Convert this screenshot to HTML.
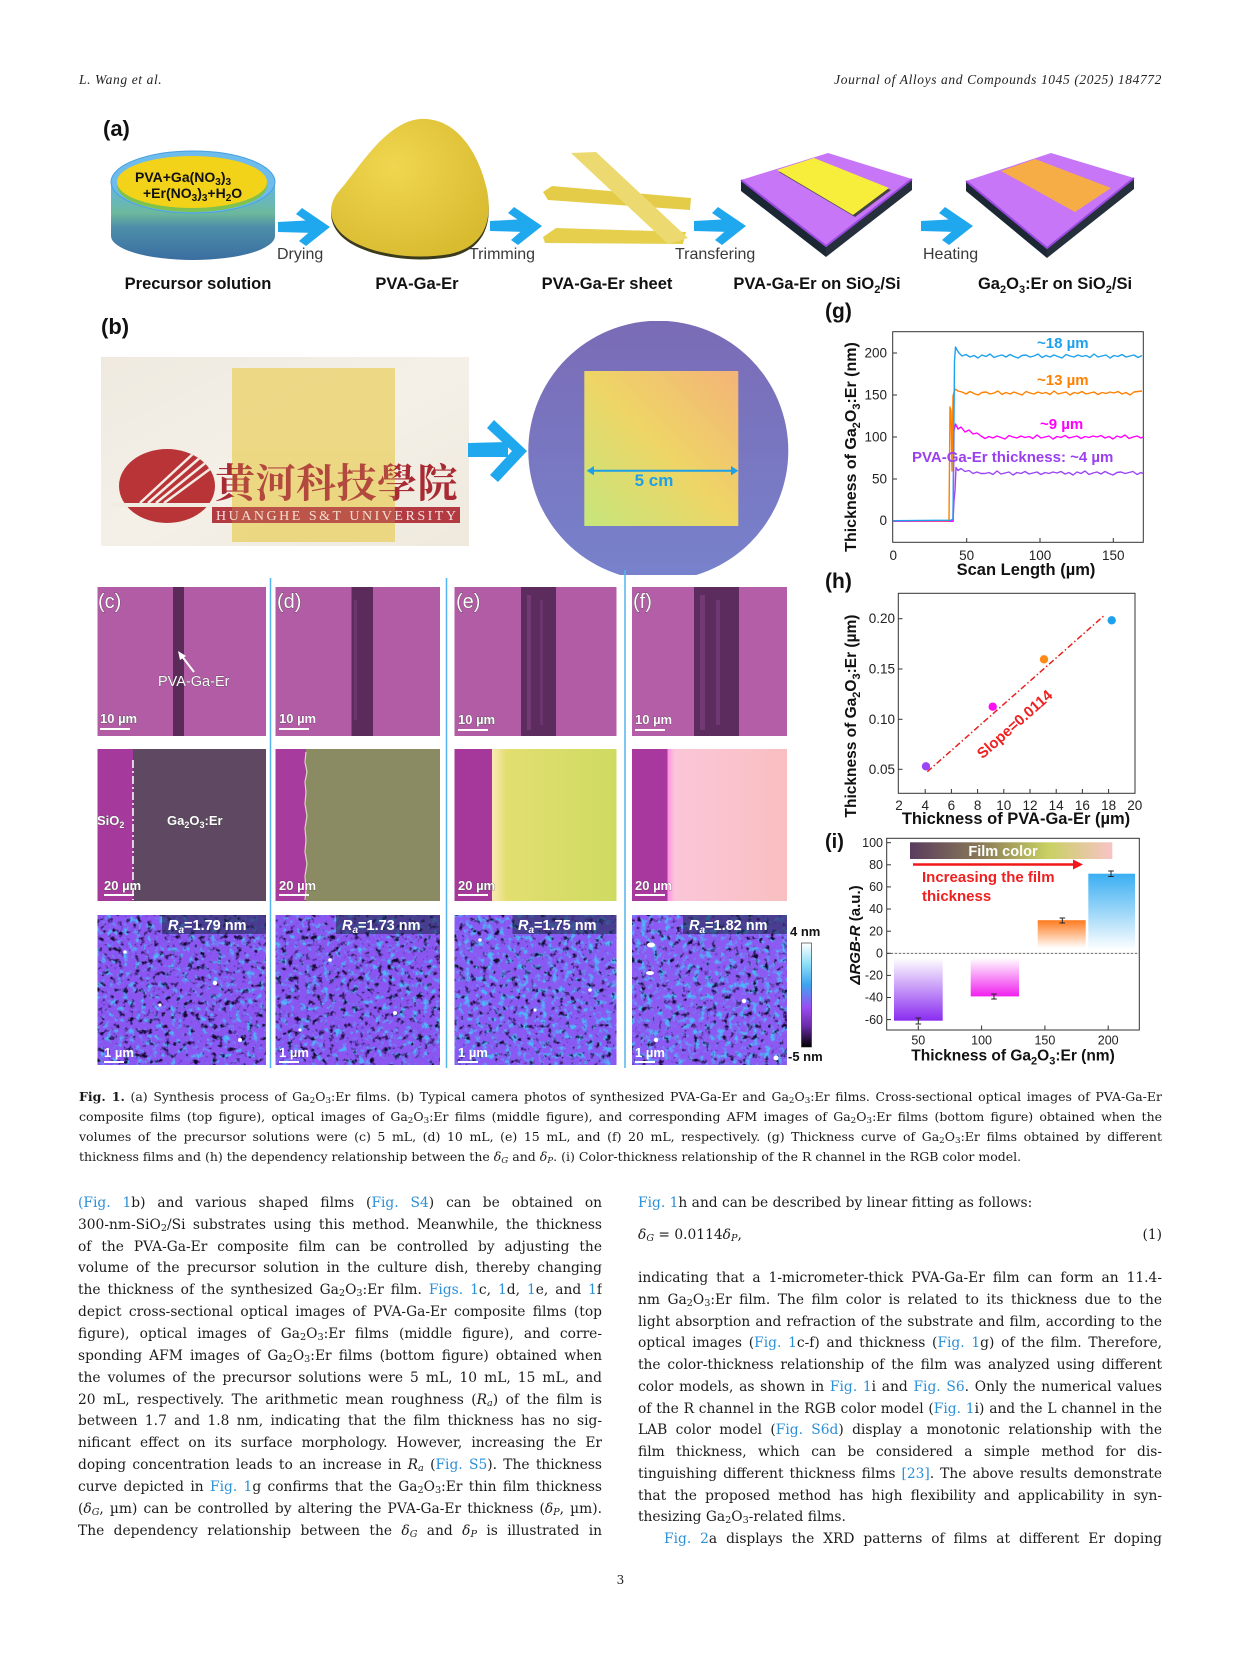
<!DOCTYPE html>
<html><head><meta charset="utf-8">
<style>
html,body{margin:0;padding:0;background:#fff;}
body{width:1241px;height:1654px;position:relative;overflow:hidden;}
#fig{position:absolute;left:0;top:0;}
.hd{position:absolute;top:72px;font-family:"Liberation Serif",serif;font-style:italic;font-size:13.5px;letter-spacing:0.6px;color:#222;white-space:nowrap;}
.ln{position:absolute;width:524px;height:20px;line-height:20px;overflow:hidden;text-align:justify;text-align-last:justify;font-family:"DejaVu Serif","Liberation Serif",serif;font-size:13.8px;color:#1b1b1b;}
.cp{position:absolute;left:79px;width:1083px;height:19px;line-height:19px;overflow:hidden;text-align:justify;text-align-last:justify;font-family:"DejaVu Serif","Liberation Serif",serif;font-size:12.5px;letter-spacing:0;color:#1b1b1b;}
.ln.nl,.cp.nl{text-align:left;text-align-last:left;}
.l{color:#2b8fd6;}
sub{font-size:70%;vertical-align:-2px;line-height:0;}
i{font-style:italic;}
</style></head><body>

<div class="hd" style="left:79px;">L. Wang et al.</div>
<div class="hd" style="right:79px;">Journal of Alloys and Compounds 1045 (2025) 184772</div>

<svg id="fig" width="1241" height="1100" viewBox="0 0 1241 1100" font-family="Liberation Sans, Arial, sans-serif">
<defs>
  <linearGradient id="dishBody" gradientUnits="userSpaceOnUse" x1="0" y1="182" x2="0" y2="260">
    <stop offset="0" stop-color="#62b6e8"/><stop offset="0.4" stop-color="#6cb89c"/><stop offset="0.58" stop-color="#4d8eaa"/><stop offset="1" stop-color="#3a6ea0"/>
  </linearGradient>
  <radialGradient id="blobG" cx="0.4" cy="0.35" r="0.7">
    <stop offset="0" stop-color="#f0d650"/><stop offset="1" stop-color="#d9bb30"/>
  </radialGradient>
  <linearGradient id="sq" x1="1" y1="0" x2="0" y2="1">
    <stop offset="0" stop-color="#f3b478"/><stop offset="0.5" stop-color="#eed566"/><stop offset="1" stop-color="#c6e67c"/>
  </linearGradient>
  <linearGradient id="waf" x1="0" y1="0" x2="0" y2="1">
    <stop offset="0" stop-color="#7a6bb6"/><stop offset="1" stop-color="#7882cc"/>
  </linearGradient>
  <linearGradient id="photoBg" x1="0" y1="0" x2="1" y2="1">
    <stop offset="0" stop-color="#efeae0"/><stop offset="0.5" stop-color="#f4f0e8"/><stop offset="1" stop-color="#efe9dd"/>
  </linearGradient>
  <linearGradient id="eG" x1="0" y1="0" x2="1" y2="0">
    <stop offset="0" stop-color="#fbe9b4"/><stop offset="0.12" stop-color="#e2de70"/><stop offset="1" stop-color="#cedb62"/>
  </linearGradient>
  <linearGradient id="fG" x1="0" y1="0" x2="1" y2="0">
    <stop offset="0" stop-color="#ff8ee4"/><stop offset="0.06" stop-color="#fac6d8"/><stop offset="1" stop-color="#f9bfc0"/>
  </linearGradient>
  <linearGradient id="cbar" x1="0" y1="0" x2="0" y2="1">
    <stop offset="0" stop-color="#ffffff"/><stop offset="0.2" stop-color="#8fe0f8"/><stop offset="0.4" stop-color="#3ea4ee"/><stop offset="0.62" stop-color="#9a4cf2"/><stop offset="0.8" stop-color="#6a2aa8"/><stop offset="1" stop-color="#000000"/>
  </linearGradient>
  <linearGradient id="filmc" x1="0" y1="0" x2="1" y2="0">
    <stop offset="0" stop-color="#5a3c5e"/><stop offset="0.35" stop-color="#8a7a58"/><stop offset="0.68" stop-color="#c8d062"/><stop offset="1" stop-color="#f8c4c6"/>
  </linearGradient>
  <linearGradient id="b1" x1="0" y1="0" x2="0" y2="1"><stop offset="0" stop-color="#ffffff"/><stop offset="1" stop-color="#8a2cf0"/></linearGradient>
  <linearGradient id="b2" x1="0" y1="0" x2="0" y2="1"><stop offset="0" stop-color="#ffffff"/><stop offset="1" stop-color="#f020ee"/></linearGradient>
  <linearGradient id="b3" x1="0" y1="0" x2="0" y2="1"><stop offset="0" stop-color="#ff7a1e"/><stop offset="1" stop-color="#ffffff"/></linearGradient>
  <linearGradient id="b4" x1="0" y1="0" x2="0" y2="1"><stop offset="0" stop-color="#3aaef2"/><stop offset="1" stop-color="#ffffff"/></linearGradient>
  <clipPath id="wclip"><rect x="520" y="321" width="280" height="254"/></clipPath>
  <clipPath id="logoClip"><ellipse cx="167" cy="486" rx="48" ry="37"/></clipPath>
  <filter id="afm1" x="0" y="0" width="1" height="1" color-interpolation-filters="sRGB">
    <feTurbulence type="fractalNoise" baseFrequency="0.17" numOctaves="3" seed="3" result="t"/>
    <feColorMatrix in="t" type="matrix" values="0 0 0 0 0.3  0 0 0 0 0.72  0 0 0 0 0.98  4 0 0 0 -2.15" result="cy"/>
    <feColorMatrix in="t" type="matrix" values="0 0 0 0 0.08  0 0 0 0 0.02  0 0 0 0 0.2  0 -4.5 0 0 1.95" result="dk"/>
    <feFlood flood-color="#8a55f0" result="bg"/>
    <feMerge><feMergeNode in="bg"/><feMergeNode in="cy"/><feMergeNode in="dk"/></feMerge>
  </filter>
  <filter id="afm2" x="0" y="0" width="1" height="1" color-interpolation-filters="sRGB">
    <feTurbulence type="fractalNoise" baseFrequency="0.17" numOctaves="3" seed="11" result="t"/>
    <feColorMatrix in="t" type="matrix" values="0 0 0 0 0.3  0 0 0 0 0.72  0 0 0 0 0.98  4 0 0 0 -2.15" result="cy"/>
    <feColorMatrix in="t" type="matrix" values="0 0 0 0 0.08  0 0 0 0 0.02  0 0 0 0 0.2  0 -4.5 0 0 1.95" result="dk"/>
    <feFlood flood-color="#8a55f0" result="bg"/>
    <feMerge><feMergeNode in="bg"/><feMergeNode in="cy"/><feMergeNode in="dk"/></feMerge>
  </filter>
  <filter id="afm3" x="0" y="0" width="1" height="1" color-interpolation-filters="sRGB">
    <feTurbulence type="fractalNoise" baseFrequency="0.17" numOctaves="3" seed="23" result="t"/>
    <feColorMatrix in="t" type="matrix" values="0 0 0 0 0.3  0 0 0 0 0.72  0 0 0 0 0.98  4 0 0 0 -2.05" result="cy"/>
    <feColorMatrix in="t" type="matrix" values="0 0 0 0 0.08  0 0 0 0 0.02  0 0 0 0 0.2  0 -4.5 0 0 1.85" result="dk"/>
    <feFlood flood-color="#8a58f2" result="bg"/>
    <feMerge><feMergeNode in="bg"/><feMergeNode in="cy"/><feMergeNode in="dk"/></feMerge>
  </filter>
  <filter id="afm4" x="0" y="0" width="1" height="1" color-interpolation-filters="sRGB">
    <feTurbulence type="fractalNoise" baseFrequency="0.17" numOctaves="3" seed="41" result="t"/>
    <feColorMatrix in="t" type="matrix" values="0 0 0 0 0.3  0 0 0 0 0.72  0 0 0 0 0.98  4 0 0 0 -2.05" result="cy"/>
    <feColorMatrix in="t" type="matrix" values="0 0 0 0 0.08  0 0 0 0 0.02  0 0 0 0 0.2  0 -4.5 0 0 1.9" result="dk"/>
    <feFlood flood-color="#8c5af2" result="bg"/>
    <feMerge><feMergeNode in="bg"/><feMergeNode in="cy"/><feMergeNode in="dk"/></feMerge>
  </filter>
  <g id="arr">
    <polygon points="0,14 37,12 37,25 0,24" fill="#1fa8ee"/>
    <polygon points="24,0 52,19 28,38 21,33 37,19 18,6" fill="#1fa8ee"/>
  </g>
</defs>

<!-- ===== (a) ===== -->
<text x="103" y="136" font-size="22" font-weight="bold" fill="#111">(a)</text>

<!-- dish -->
<path d="M111,182 L111,236 A82,24 0 0 0 275,236 L275,182 Z" fill="url(#dishBody)"/>
<ellipse cx="193" cy="182" rx="82" ry="31" fill="#6dbcec" stroke="#4aa0e0" stroke-width="1"/>
<ellipse cx="192" cy="186" rx="75" ry="26" fill="#7fc24e"/>
<ellipse cx="192" cy="182" rx="75" ry="26" fill="#f3d21a"/>
<text x="135" y="182" font-size="14" font-weight="bold" fill="#111">PVA+Ga(NO<tspan dy="3" font-size="10">3</tspan><tspan dy="-3">)</tspan><tspan dy="3" font-size="10">3</tspan></text>
<text x="143" y="198" font-size="14" font-weight="bold" fill="#111">+Er(NO<tspan dy="3" font-size="10">3</tspan><tspan dy="-3">)</tspan><tspan dy="3" font-size="10">3</tspan><tspan dy="-3">+H</tspan><tspan dy="3" font-size="10">2</tspan><tspan dy="-3">O</tspan></text>

<use href="#arr" x="278" y="208"/>
<text x="277" y="259" font-size="16" fill="#3a3a3a">Drying</text>

<!-- blob -->
<path transform="translate(0,3)" d="M420,119 C455,117 478,150 487,190 C494,225 480,248 450,254 C415,260 375,255 350,240 C328,226 326,205 340,190 C358,170 385,122 420,119 Z" fill="#3c3a1c"/>
<path d="M420,119 C455,117 478,150 487,190 C494,225 480,248 450,254 C415,260 375,255 350,240 C328,226 326,205 340,190 C358,170 385,122 420,119 Z" fill="url(#blobG)"/>

<use href="#arr" x="490" y="207"/>
<text x="469" y="259" font-size="16" fill="#3a3a3a">Trimming</text>

<!-- strips -->
<polygon points="543,192 552,186 691,198 690,210 548,200" fill="#e4cc48"/>
<polygon points="543,237 556,228 686,232 683,244 545,243" fill="#e6cf4c"/>
<polygon points="571,153 596,152 688,238 668,244" fill="#ecda70"/>

<use href="#arr" x="694" y="207"/>
<text x="675" y="259" font-size="16" fill="#3a3a3a">Transfering</text>

<!-- wafer 1 -->
<polygon points="741,180 826,246 826,257 741,191" fill="#1c2734"/>
<polygon points="826,246 912,179 912,190 826,257" fill="#26303c"/>
<polygon points="741,180 828,153 912,179 826,246" fill="#c676f6"/>
<polyline points="741,180 826,246 912,179" fill="none" stroke="#9a4ae0" stroke-width="2"/>
<polygon points="779,172 816,160 891,190 855,217" fill="#444"/>
<polygon points="777,170 814,158 889,188 853,215" fill="#f6ee3a"/>

<use href="#arr" x="921" y="207"/>
<text x="923" y="259" font-size="16" fill="#3a3a3a">Heating</text>

<!-- wafer 2 -->
<polygon points="966,181 1047,248 1047,258 966,191" fill="#1c2734"/>
<polygon points="1047,248 1134,178 1134,189 1047,258" fill="#26303c"/>
<polygon points="966,181 1051,153 1134,178 1047,248" fill="#c676f6"/>
<polyline points="966,181 1047,248 1134,178" fill="none" stroke="#9a4ae0" stroke-width="2"/>
<polygon points="1001,171 1035,159 1111,188 1075,212" fill="#f7ad46"/>

<g font-size="16.5" font-weight="bold" fill="#111" text-anchor="middle">
  <text x="198" y="289">Precursor solution</text>
  <text x="417" y="289">PVA-Ga-Er</text>
  <text x="607" y="289">PVA-Ga-Er sheet</text>
  <text x="817" y="289">PVA-Ga-Er on SiO<tspan dy="4" font-size="11">2</tspan><tspan dy="-4">/Si</tspan></text>
  <text x="1055" y="289">Ga<tspan dy="4" font-size="11">2</tspan><tspan dy="-4">O</tspan><tspan dy="4" font-size="11">3</tspan><tspan dy="-4">:Er on SiO</tspan><tspan dy="4" font-size="11">2</tspan><tspan dy="-4">/Si</tspan></text>
</g>

<!-- ===== (b) ===== -->
<text x="101" y="334" font-size="22" font-weight="bold" fill="#111">(b)</text>
<rect x="101" y="357" width="368" height="189" fill="url(#photoBg)"/>
<rect x="232" y="368" width="163" height="174" fill="#ebd374" opacity="0.85"/>
<!-- logo -->
<ellipse cx="167" cy="486" rx="48" ry="37" fill="#b83436"/>
<g clip-path="url(#logoClip)" stroke="#f3ece6" stroke-width="2.5">
  <line x1="140" y1="503" x2="195" y2="452"/>
  <line x1="148" y1="503" x2="203" y2="455"/>
  <line x1="156" y1="503" x2="209" y2="460"/>
  <line x1="164" y1="503" x2="214" y2="466"/>
</g>
<rect x="112" y="503" width="106" height="4" fill="#f1ece2"/>
<text x="215" y="497" font-family="Noto Serif CJK SC, Noto Sans CJK SC, serif" font-size="40" font-weight="bold" fill="#a82a32" letter-spacing="0.5">黄河科技學院</text>
<rect x="212" y="507" width="248" height="16" fill="#b23a40"/>
<text x="216" y="520" font-family="Liberation Serif, serif" font-size="14" fill="#f7e2e2" textLength="240" lengthAdjust="spacing">HUANGHE  S&amp;T UNIVERSITY</text>
<rect x="232" y="450" width="163" height="92" fill="#ebd374" opacity="0.18"/>
<!-- arrow -->
<polygon points="468,443 508,442 508,457 468,457" fill="#1fa8ee"/>
<polygon points="494,420 527,451 498,482 490,475 512,451 487,428" fill="#1fa8ee"/>
<!-- wafer -->
<g clip-path="url(#wclip)">
  <circle cx="658.3" cy="450.7" r="130" fill="url(#waf)"/>
</g>
<rect x="584.3" y="371" width="154" height="155" fill="url(#sq)"/>
<line x1="590" y1="470.7" x2="735" y2="470.7" stroke="#1ea0e6" stroke-width="2"/>
<polygon points="586.7,470.7 594,466 594,475.4" fill="#1ea0e6"/>
<polygon points="738.3,470.7 731,466 731,475.4" fill="#1ea0e6"/>
<text x="654" y="486" font-size="17" font-weight="bold" fill="#1ea0e6" text-anchor="middle">5 cm</text>

<!-- ===== (c)-(f) ===== -->
<!-- row 1 -->
<rect x="97.5" y="587" width="168.5" height="149" fill="#b35ca6"/>
<rect x="173" y="587" width="11" height="149" fill="#5a2a58"/>
<rect x="275.5" y="587" width="164.5" height="149" fill="#b35ca6"/>
<rect x="351.5" y="587" width="21.5" height="149" fill="#5b2b5c"/>
<rect x="354" y="600" width="3" height="120" fill="#7a3c7c" opacity="0.6"/>
<rect x="454.5" y="587" width="162" height="149" fill="#b35ca6"/>
<rect x="521" y="587" width="35" height="149" fill="#5c2c5e"/>
<rect x="527" y="595" width="4" height="135" fill="#8a468c" opacity="0.5"/>
<rect x="540" y="600" width="3" height="125" fill="#7a3c80" opacity="0.5"/>
<rect x="632" y="587" width="155" height="149" fill="#b55ea8"/>
<rect x="694" y="587" width="45" height="149" fill="#5c2c5e"/>
<rect x="700" y="595" width="5" height="135" fill="#8a468c" opacity="0.5"/>
<rect x="716" y="600" width="4" height="125" fill="#8a468c" opacity="0.45"/>
<g fill="#fff" stroke="#3a3a3a" stroke-width="0.6" paint-order="stroke" font-size="20">
  <text x="98" y="608">(c)</text>
  <text x="277" y="608">(d)</text>
  <text x="456" y="608">(e)</text>
  <text x="633" y="608">(f)</text>
</g>
<g fill="#fff" font-size="13" font-weight="bold" stroke="#3a3a3a" stroke-width="0.5" paint-order="stroke">
  <text x="100" y="723">10 µm</text>
  <text x="279" y="723">10 µm</text>
  <text x="458" y="724">10 µm</text>
  <text x="635" y="724">10 µm</text>
  <text x="158" y="686" font-weight="normal" font-size="14.5">PVA-Ga-Er</text>
</g>
<g stroke="#fff" stroke-width="2">
  <line x1="100" y1="729" x2="130" y2="729"/>
  <line x1="279" y1="729" x2="309" y2="729"/>
  <line x1="458" y1="730" x2="488" y2="730"/>
  <line x1="635" y1="730" x2="665" y2="730"/>
  <line x1="194" y1="672" x2="181" y2="655"/>
</g>
<polygon points="178,651 186,656 180,660" fill="#fff"/>

<!-- row 2 -->
<rect x="97.5" y="749" width="35.5" height="152" fill="#a5399c"/>
<rect x="133" y="749" width="133" height="152" fill="#5f4862"/>
<line x1="133" y1="760" x2="133" y2="900" stroke="#fff" stroke-width="1.5" stroke-dasharray="8,3,2,3"/>
<rect x="275.5" y="749" width="31" height="152" fill="#a83b9e"/>
<rect x="306" y="749" width="134" height="152" fill="#8a8a63"/>
<polyline points="306,752 305,762 307,772 305,782 306,792 305,804 307,816 305,828 306,840 305,852 307,864 305,876 306,890 305,900" fill="none" stroke="#d8d8c0" stroke-width="1.2"/>
<rect x="454.5" y="749" width="38" height="152" fill="#a6389b"/>
<rect x="492" y="749" width="124.5" height="152" fill="url(#eG)"/>
<rect x="632" y="749" width="36" height="152" fill="#a8389e"/>
<rect x="667.5" y="749" width="119.5" height="152" fill="url(#fG)"/>
<g fill="#fff" font-size="13" font-weight="bold" stroke="#3a3a3a" stroke-width="0.5" paint-order="stroke">
  <text x="97" y="825">SiO<tspan dy="3" font-size="9">2</tspan></text>
  <text x="167" y="825">Ga<tspan dy="3" font-size="9">2</tspan><tspan dy="-3">O</tspan><tspan dy="3" font-size="9">3</tspan><tspan dy="-3">:Er</tspan></text>
  <text x="104" y="890">20 µm</text>
  <text x="279" y="890">20 µm</text>
  <text x="458" y="890">20 µm</text>
  <text x="635" y="890">20 µm</text>
</g>
<g stroke="#fff" stroke-width="2">
  <line x1="104" y1="895" x2="134" y2="895"/>
  <line x1="279" y1="895" x2="309" y2="895"/>
  <line x1="458" y1="895" x2="488" y2="895"/>
  <line x1="635" y1="895" x2="665" y2="895"/>
</g>

<!-- row 3 AFM -->
<rect x="97.5" y="915" width="168.5" height="150" filter="url(#afm1)"/>
<rect x="275.5" y="915" width="164.5" height="150" filter="url(#afm2)"/>
<rect x="454.5" y="915" width="162" height="150" filter="url(#afm3)"/>
<rect x="632" y="915" width="155" height="150" filter="url(#afm4)"/>
<g fill="#fff">
  <circle cx="215" cy="983" r="2.2"/><circle cx="125" cy="952" r="1.8"/><circle cx="240" cy="1040" r="2"/><circle cx="160" cy="1005" r="1.6"/>
  <circle cx="330" cy="960" r="1.8"/><circle cx="395" cy="1013" r="2"/><circle cx="300" cy="1030" r="1.6"/>
  <circle cx="480" cy="940" r="1.8"/><circle cx="535" cy="1010" r="1.6"/><circle cx="590" cy="990" r="1.8"/>
  <ellipse cx="651" cy="945" rx="4" ry="2.5"/><ellipse cx="650" cy="973" rx="4" ry="2"/><circle cx="656" cy="1040" r="2.2"/><circle cx="744" cy="1001" r="2.2"/><circle cx="776" cy="1058" r="2.5"/>
</g>
<g>
  <rect x="162" y="915" width="104" height="19" fill="#1e2a50" opacity="0.6"/>
  <rect x="336" y="915" width="104" height="19" fill="#1e2a50" opacity="0.6"/>
  <rect x="512.5" y="915" width="104" height="19" fill="#1e2a50" opacity="0.6"/>
  <rect x="683" y="915" width="104" height="19" fill="#1e2a50" opacity="0.6"/>
</g>
<g fill="#fff" font-size="14.5" font-weight="bold">
  <text x="168" y="930"><tspan font-style="italic">R</tspan><tspan dy="3" font-size="10" font-style="italic">a</tspan><tspan dy="-3">=1.79 nm</tspan></text>
  <text x="342" y="930"><tspan font-style="italic">R</tspan><tspan dy="3" font-size="10" font-style="italic">a</tspan><tspan dy="-3">=1.73 nm</tspan></text>
  <text x="518" y="930"><tspan font-style="italic">R</tspan><tspan dy="3" font-size="10" font-style="italic">a</tspan><tspan dy="-3">=1.75 nm</tspan></text>
  <text x="689" y="930"><tspan font-style="italic">R</tspan><tspan dy="3" font-size="10" font-style="italic">a</tspan><tspan dy="-3">=1.82 nm</tspan></text>
</g>
<g fill="#fff" font-size="13" font-weight="bold">
  <text x="104" y="1057">1 µm</text>
  <text x="279" y="1057">1 µm</text>
  <text x="458" y="1057">1 µm</text>
  <text x="635" y="1057">1 µm</text>
</g>
<g stroke="#fff" stroke-width="2">
  <line x1="104" y1="1062" x2="124" y2="1062"/>
  <line x1="279" y1="1062" x2="299" y2="1062"/>
  <line x1="458" y1="1062" x2="478" y2="1062"/>
  <line x1="635" y1="1062" x2="655" y2="1062"/>
</g>
<rect x="801.5" y="943" width="10" height="104" fill="url(#cbar)" stroke="#222" stroke-width="0.6"/>
<text x="790" y="936" font-size="13" font-weight="bold" fill="#111">4 nm</text>
<text x="788" y="1061" font-size="13" font-weight="bold" fill="#111">-5 nm</text>

<!-- separators -->
<g stroke="#55b4ee" stroke-width="1.5">
  <line x1="270.5" y1="578" x2="270.5" y2="1068"/>
  <line x1="446.5" y1="578" x2="446.5" y2="1068"/>
  <line x1="625" y1="570" x2="625" y2="1068"/>
</g>

<!-- ===== (g) ===== -->
<text x="825" y="318" font-size="21" font-weight="bold" fill="#111">(g)</text>
<rect x="892.7" y="331.7" width="250.6" height="210.6" fill="none" stroke="#333" stroke-width="1"/>
<g stroke="#333" stroke-width="1">
  <line x1="892.7" y1="520.7" x2="897" y2="520.7"/><line x1="892.7" y1="479" x2="897" y2="479"/><line x1="892.7" y1="437" x2="897" y2="437"/><line x1="892.7" y1="395" x2="897" y2="395"/><line x1="892.7" y1="353" x2="897" y2="353"/>
  <line x1="966.7" y1="542.3" x2="966.7" y2="538"/><line x1="1040" y1="542.3" x2="1040" y2="538"/><line x1="1113.3" y1="542.3" x2="1113.3" y2="538"/>
</g>
<g font-size="13.5" fill="#222" text-anchor="end">
  <text x="887" y="525">0</text><text x="887" y="483.5">50</text><text x="887" y="441.5">100</text><text x="887" y="399.5">150</text><text x="887" y="357.5">200</text>
</g>
<g font-size="13.5" fill="#222" text-anchor="middle">
  <text x="893.3" y="560">0</text><text x="966.7" y="560">50</text><text x="1040" y="560">100</text><text x="1113.3" y="560">150</text>
</g>
<text x="1026" y="575" font-size="16.5" font-weight="bold" fill="#111" text-anchor="middle">Scan Length (µm)</text>
<text transform="translate(856,447) rotate(-90)" font-size="16" font-weight="bold" fill="#111" text-anchor="middle">Thickness of Ga<tspan dy="4" font-size="11">2</tspan><tspan dy="-4">O</tspan><tspan dy="4" font-size="11">3</tspan><tspan dy="-4">:Er (nm)</tspan></text>
<g fill="none" stroke-width="1.4" stroke-linejoin="round">
  <polyline transform="translate(0,0.5)" stroke="#9b45f5" points="893.3,520.7 953,520.7 954,500 955,490 956,467 958,470 961,468 965,471 969,470 973,473 977,471.5 981,473 985,473 989,472 993,474 997,470.5 1001,473.5 1005,472.5 1009,471.5 1013,474.5 1017,472 1021,473 1025,471 1029,473.5 1033,472.5 1037,471.5 1041,474 1045,472 1049,473 1053,471.5 1057,472.5 1061,471 1065,473.5 1069,472 1073,474.5 1077,471.5 1081,473 1085,470.5 1089,474 1093,472.5 1097,471.5 1101,473.5 1105,471 1109,473 1113,474.5 1117,472 1121,471.5 1125,473 1129,472 1133,471 1137,474 1141,472 1143,473"/>
  <polyline transform="translate(0,1)" stroke="#ff00ff" points="893.3,520.2 953,520.2 954,430 955.5,423 958,428 961,426 965,431 969,429 973,433 977,432 981,435 985,437.5 989,435.5 993,437 997,435 1001,436.5 1005,438 1009,434.5 1013,436 1017,437 1021,435 1025,436.5 1029,435.5 1033,437.5 1037,434 1041,437 1045,436 1049,435 1053,438 1057,435.5 1061,436.5 1065,434.5 1069,437 1073,436 1077,435 1081,437.5 1085,435.5 1089,436.5 1093,435 1097,436 1101,434.5 1105,437 1109,435.5 1113,438 1117,435 1121,436.5 1125,434 1129,437.5 1133,436 1137,435 1141,437 1143,436"/>
  <polyline transform="translate(0,1)" stroke="#ff8000" points="893.3,519.7 949,519.7 950,406 951,410 952,470 953,395 955,388 958,390 962,391 966,393 970,390.5 974,392.5 978,394 982,391.5 986,391 990,393 994,392 998,390 1002,393.5 1006,391.5 1010,393 1014,391 1018,392.5 1022,394 1026,390.5 1030,392 1034,393 1038,391 1042,392.5 1046,391.5 1050,393.5 1054,390 1058,393 1062,392 1066,391 1070,394 1074,391.5 1078,392.5 1082,390.5 1086,393 1090,392 1094,391 1098,393.5 1102,391.5 1106,392.5 1110,391 1114,392 1118,390.5 1122,393 1126,391.5 1130,394 1134,391 1138,390.5 1142,390"/>
  <polyline transform="translate(0,1)" stroke="#1da1ec" points="893.3,519.7 951,519.2 953,518 954.5,360 955.5,346 957,349 959,352 962,355 966,353.5 970,356 974,354.5 978,357 982,354 986,355.5 990,353 994,356.5 998,355 1002,354 1006,356 1010,353.5 1014,355.5 1018,357 1022,354.5 1026,354 1030,356 1034,355 1038,353 1042,356.5 1046,354.5 1050,356 1054,354 1058,355.5 1062,357 1066,353.5 1070,355 1074,356 1078,354 1082,355.5 1086,354.5 1090,356.5 1094,353 1098,356 1102,355 1106,354 1110,357 1114,354.5 1118,355.5 1122,353.5 1126,356 1130,355 1134,354 1138,356.5 1142,354.5"/>
</g>
<g font-size="15" font-weight="bold">
  <text x="1037" y="348" fill="#1da1ec">~18 µm</text>
  <text x="1037" y="385" fill="#ff8000">~13 µm</text>
  <text x="1040" y="429" fill="#ff00ff">~9 µm</text>
  <text x="912" y="462" fill="#9b3ff0">PVA-Ga-Er thickness: ~4 µm</text>
</g>

<!-- ===== (h) ===== -->
<text x="825" y="588" font-size="21" font-weight="bold" fill="#111">(h)</text>
<rect x="898.3" y="593.3" width="236.7" height="200" fill="none" stroke="#333" stroke-width="1"/>
<g stroke="#333" stroke-width="1">
  <line x1="898.3" y1="618.7" x2="902.5" y2="618.7"/><line x1="898.3" y1="669" x2="902.5" y2="669"/><line x1="898.3" y1="719.3" x2="902.5" y2="719.3"/><line x1="898.3" y1="769.3" x2="902.5" y2="769.3"/>
  <line x1="925.2" y1="793.3" x2="925.2" y2="789"/><line x1="951.4" y1="793.3" x2="951.4" y2="789"/><line x1="977.6" y1="793.3" x2="977.6" y2="789"/><line x1="1003.8" y1="793.3" x2="1003.8" y2="789"/><line x1="1030" y1="793.3" x2="1030" y2="789"/><line x1="1056.2" y1="793.3" x2="1056.2" y2="789"/><line x1="1082.4" y1="793.3" x2="1082.4" y2="789"/><line x1="1108.6" y1="793.3" x2="1108.6" y2="789"/>
</g>
<g font-size="13.5" fill="#222" text-anchor="end">
  <text x="895" y="623.2">0.20</text><text x="895" y="673.5">0.15</text><text x="895" y="723.8">0.10</text><text x="895" y="773.8">0.05</text>
</g>
<g font-size="13.5" fill="#222" text-anchor="middle">
  <text x="899" y="810">2</text><text x="925.2" y="810">4</text><text x="951.4" y="810">6</text><text x="977.6" y="810">8</text><text x="1003.8" y="810">10</text><text x="1030" y="810">12</text><text x="1056.2" y="810">14</text><text x="1082.4" y="810">16</text><text x="1108.6" y="810">18</text><text x="1134.8" y="810">20</text>
</g>
<text x="1016" y="824" font-size="16.5" font-weight="bold" fill="#111" text-anchor="middle">Thickness of PVA-Ga-Er (µm)</text>
<text transform="translate(856,716) rotate(-90)" font-size="15.5" font-weight="bold" fill="#111" text-anchor="middle">Thickness of Ga<tspan dy="4" font-size="11">2</tspan><tspan dy="-4">O</tspan><tspan dy="4" font-size="11">3</tspan><tspan dy="-4">:Er (µm)</tspan></text>
<line x1="927.3" y1="771.7" x2="1104" y2="615.7" stroke="#e82020" stroke-width="1.5" stroke-dasharray="6,2.5,1.5,2.5"/>
<circle cx="926" cy="766.3" r="4.2" fill="#9b45f5"/>
<circle cx="992.7" cy="706.7" r="4.2" fill="#ff10f0"/>
<circle cx="1044" cy="659.3" r="4.2" fill="#ff8a14"/>
<circle cx="1111.7" cy="620.3" r="4.2" fill="#1da1ec"/>
<text transform="translate(1018,728) rotate(-41.5)" font-size="15" font-weight="bold" fill="#f02020" text-anchor="middle">Slope=0.0114</text>

<!-- ===== (i) ===== -->
<text x="825" y="848" font-size="20" font-weight="bold" fill="#111">(i)</text>
<rect x="894" y="958" width="48.7" height="62.7" fill="url(#b1)"/>
<rect x="970.7" y="958" width="48.3" height="38.4" fill="url(#b2)"/>
<rect x="1037.7" y="920.2" width="48" height="28" fill="url(#b3)"/>
<rect x="1088.3" y="873.7" width="46.7" height="76.3" fill="url(#b4)"/>
<line x1="886.7" y1="953.3" x2="1139.3" y2="953.3" stroke="#555" stroke-width="0.8" stroke-dasharray="2.5,1.5"/>
<g stroke="#222" stroke-width="1">
  <line x1="918.3" y1="1018" x2="918.3" y2="1024"/><line x1="915.5" y1="1018" x2="921.1" y2="1018"/><line x1="915.5" y1="1024" x2="921.1" y2="1024"/>
  <line x1="994" y1="994" x2="994" y2="999"/><line x1="991.2" y1="994" x2="996.8" y2="994"/><line x1="991.2" y1="999" x2="996.8" y2="999"/>
  <line x1="1062.3" y1="918" x2="1062.3" y2="923"/><line x1="1059.5" y1="918" x2="1065.1" y2="918"/><line x1="1059.5" y1="923" x2="1065.1" y2="923"/>
  <line x1="1111" y1="871" x2="1111" y2="876.5"/><line x1="1108.2" y1="871" x2="1113.8" y2="871"/><line x1="1108.2" y1="876.5" x2="1113.8" y2="876.5"/>
</g>
<rect x="886.7" y="838.3" width="252.6" height="191.7" fill="none" stroke="#333" stroke-width="1"/>
<g stroke="#333" stroke-width="1">
  <line x1="886.7" y1="842.7" x2="891" y2="842.7"/><line x1="886.7" y1="864.8" x2="891" y2="864.8"/><line x1="886.7" y1="886.9" x2="891" y2="886.9"/><line x1="886.7" y1="909" x2="891" y2="909"/><line x1="886.7" y1="931.2" x2="891" y2="931.2"/><line x1="886.7" y1="953.3" x2="891" y2="953.3"/><line x1="886.7" y1="975.4" x2="891" y2="975.4"/><line x1="886.7" y1="997.5" x2="891" y2="997.5"/><line x1="886.7" y1="1019.6" x2="891" y2="1019.6"/>
  <line x1="918.3" y1="1030" x2="918.3" y2="1025.5"/><line x1="981.6" y1="1030" x2="981.6" y2="1025.5"/><line x1="1044.9" y1="1030" x2="1044.9" y2="1025.5"/><line x1="1108.2" y1="1030" x2="1108.2" y2="1025.5"/>
</g>
<g font-size="12.5" fill="#222" text-anchor="end">
  <text x="883" y="847">100</text><text x="883" y="869">80</text><text x="883" y="891">60</text><text x="883" y="913">40</text><text x="883" y="935.5">20</text><text x="883" y="957.5">0</text><text x="883" y="979.5">-20</text><text x="883" y="1001.5">-40</text><text x="883" y="1024">-60</text>
</g>
<g font-size="12.5" fill="#222" text-anchor="middle">
  <text x="918.3" y="1044.5">50</text><text x="981.6" y="1044.5">100</text><text x="1044.9" y="1044.5">150</text><text x="1108.2" y="1044.5">200</text>
</g>
<text x="1013" y="1060.5" font-size="15.5" font-weight="bold" fill="#111" text-anchor="middle">Thickness of Ga<tspan dy="4" font-size="11">2</tspan><tspan dy="-4">O</tspan><tspan dy="4" font-size="11">3</tspan><tspan dy="-4">:Er (nm)</tspan></text>
<text transform="translate(860,935) rotate(-90)" font-size="15" font-weight="bold" fill="#111" text-anchor="middle"><tspan font-style="italic">ΔRGB-R</tspan> (a.u.)</text>
<rect x="910" y="842.3" width="202.3" height="16.7" fill="url(#filmc)"/>
<text x="1003" y="856" font-size="14.5" font-weight="bold" fill="#fff" text-anchor="middle">Film color</text>
<line x1="913" y1="864.5" x2="1076" y2="864.5" stroke="#f01818" stroke-width="2.5"/>
<polygon points="1083,864.5 1073,859.5 1073,869.5" fill="#f01818"/>
<text x="922" y="882" font-size="15" font-weight="bold" fill="#f02020">Increasing the film</text>
<text x="922" y="901" font-size="15" font-weight="bold" fill="#f02020">thickness</text>
</svg>

<!-- caption -->
<div class="cp" style="top:1087px;"><b>Fig. 1.</b> (a) Synthesis process of Ga<sub>2</sub>O<sub>3</sub>:Er films. (b) Typical camera photos of synthesized PVA-Ga-Er and Ga<sub>2</sub>O<sub>3</sub>:Er films. Cross-sectional optical images of PVA-Ga-Er</div>
<div class="cp" style="top:1107px;">composite films (top figure), optical images of Ga<sub>2</sub>O<sub>3</sub>:Er films (middle figure), and corresponding AFM images of Ga<sub>2</sub>O<sub>3</sub>:Er films (bottom figure) obtained when the</div>
<div class="cp" style="top:1127px;">volumes of the precursor solutions were (c) 5 mL, (d) 10 mL, (e) 15 mL, and (f) 20 mL, respectively. (g) Thickness curve of Ga<sub>2</sub>O<sub>3</sub>:Er films obtained by different</div>
<div class="cp nl" style="top:1147px;">thickness films and (h) the dependency relationship between the <i>δ<sub>G</sub></i> and <i>δ<sub>P</sub></i>. (i) Color-thickness relationship of the R channel in the RGB color model.</div>

<!-- left column -->
<div class="ln" style="left:78px;top:1193px;"><span class="l">(Fig. 1</span>b) and various shaped films (<span class="l">Fig. S4</span>) can be obtained on</div>
<div class="ln" style="left:78px;top:1215px;">300-nm-SiO<sub>2</sub>/Si substrates using this method. Meanwhile, the thickness</div>
<div class="ln" style="left:78px;top:1237px;">of the PVA-Ga-Er composite film can be controlled by adjusting the</div>
<div class="ln" style="left:78px;top:1258px;">volume of the precursor solution in the culture dish, thereby changing</div>
<div class="ln" style="left:78px;top:1280px;">the thickness of the synthesized Ga<sub>2</sub>O<sub>3</sub>:Er film. <span class="l">Figs. 1</span>c, <span class="l">1</span>d, <span class="l">1</span>e, and <span class="l">1</span>f</div>
<div class="ln" style="left:78px;top:1302px;">depict cross-sectional optical images of PVA-Ga-Er composite films (top</div>
<div class="ln" style="left:78px;top:1324px;">figure), optical images of Ga<sub>2</sub>O<sub>3</sub>:Er films (middle figure), and corre-</div>
<div class="ln" style="left:78px;top:1346px;">sponding AFM images of Ga<sub>2</sub>O<sub>3</sub>:Er films (bottom figure) obtained when</div>
<div class="ln" style="left:78px;top:1368px;">the volumes of the precursor solutions were 5 mL, 10 mL, 15 mL, and</div>
<div class="ln" style="left:78px;top:1390px;">20 mL, respectively. The arithmetic mean roughness (<i>R<sub>a</sub></i>) of the film is</div>
<div class="ln" style="left:78px;top:1411px;">between 1.7 and 1.8 nm, indicating that the film thickness has no sig-</div>
<div class="ln" style="left:78px;top:1433px;">nificant effect on its surface morphology. However, increasing the Er</div>
<div class="ln" style="left:78px;top:1455px;">doping concentration leads to an increase in <i>R<sub>a</sub></i> (<span class="l">Fig. S5</span>). The thickness</div>
<div class="ln" style="left:78px;top:1477px;">curve depicted in <span class="l">Fig. 1</span>g confirms that the Ga<sub>2</sub>O<sub>3</sub>:Er thin film thickness</div>
<div class="ln" style="left:78px;top:1499px;">(<i>δ<sub>G</sub></i>, µm) can be controlled by altering the PVA-Ga-Er thickness (<i>δ<sub>P</sub></i>, µm).</div>
<div class="ln" style="left:78px;top:1521px;">The dependency relationship between the <i>δ<sub>G</sub></i> and <i>δ<sub>P</sub></i> is illustrated in</div>

<!-- right column -->
<div class="ln nl" style="left:638px;top:1193px;"><span class="l">Fig. 1</span>h and can be described by linear fitting as follows:</div>
<div class="ln nl" style="left:638px;top:1225px;"><i>δ<sub>G</sub></i> = 0.0114<i>δ<sub>P</sub></i>,<span style="position:absolute;right:0;">(1)</span></div>
<div class="ln" style="left:638px;top:1268px;">indicating that a 1-micrometer-thick PVA-Ga-Er film can form an 11.4-</div>
<div class="ln" style="left:638px;top:1290px;">nm Ga<sub>2</sub>O<sub>3</sub>:Er film. The film color is related to its thickness due to the</div>
<div class="ln" style="left:638px;top:1312px;">light absorption and refraction of the substrate and film, according to the</div>
<div class="ln" style="left:638px;top:1333px;">optical images (<span class="l">Fig. 1</span>c-f) and thickness (<span class="l">Fig. 1</span>g) of the film. Therefore,</div>
<div class="ln" style="left:638px;top:1355px;">the color-thickness relationship of the film was analyzed using different</div>
<div class="ln" style="left:638px;top:1377px;">color models, as shown in <span class="l">Fig. 1</span>i and <span class="l">Fig. S6</span>. Only the numerical values</div>
<div class="ln" style="left:638px;top:1399px;">of the R channel in the RGB color model (<span class="l">Fig. 1</span>i) and the L channel in the</div>
<div class="ln" style="left:638px;top:1420px;">LAB color model (<span class="l">Fig. S6d</span>) display a monotonic relationship with the</div>
<div class="ln" style="left:638px;top:1442px;">film thickness, which can be considered a simple method for dis-</div>
<div class="ln" style="left:638px;top:1464px;">tinguishing different thickness films <span class="l">[23]</span>. The above results demonstrate</div>
<div class="ln" style="left:638px;top:1486px;">that the proposed method has high flexibility and applicability in syn-</div>
<div class="ln nl" style="left:638px;top:1507px;">thesizing Ga<sub>2</sub>O<sub>3</sub>-related films.</div>
<div class="ln" style="left:664px;width:498px;top:1529px;"><span class="l">Fig. 2</span>a displays the XRD patterns of films at different Er doping</div>

<div style="position:absolute;left:0;width:1241px;top:1573px;text-align:center;font-family:'DejaVu Serif','Liberation Serif',serif;font-size:12px;color:#222;">3</div>
</body></html>
